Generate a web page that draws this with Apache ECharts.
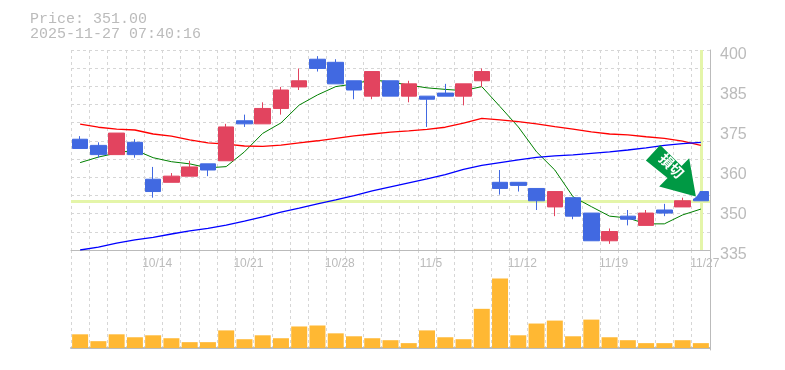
<!DOCTYPE html>
<html>
<head>
<meta charset="utf-8">
<style>html,body{margin:0;padding:0;background:#fff}#c{width:785px;height:370px}</style>
<script src="https://cdn.jsdelivr.net/npm/echarts@6/dist/echarts.min.js"></script>
</head>
<body>
<div id="c"></div>
<script>
const headerLines = ['Price: 351.00', '2025-11-27 07:40:16'];
const lastPrice = 351;
const dates = ['10/7','10/8','10/9','10/10','10/14','10/15','10/16','10/17','10/20','10/21','10/22','10/23','10/24','10/27','10/28','10/29','10/30','10/31','11/4','11/5','11/6','11/7','11/10','11/11','11/12','11/13','11/14','11/17','11/18','11/19','11/20','11/21','11/25','11/26','11/27'];
// open, close, low, high
const ohlc = [[371,368,368,372],[369,366,365,370],[366,373,366,373],[370,366,365,371],[358,354,352,362],[357,359,357,360],[359,362,359,364],[363,361,359,363],[364,375,364,376],[377,376,375,379],[376,381,376,383],[381,387,379,388],[388,390,387,394],[397,394,393,398],[396,389,389,397],[390,387,384,390],[385,393,384,393],[390,385,385,390],[385,389,383,390],[385,384,375,385],[386,385,385,389],[385,389,382,389],[390,393,388,394],[357,355,353,361],[357,356,354,357],[355,351,348,355],[349,354,346,354],[352,346,345,352],[347,338,338,347],[338,341,337,342],[346,345,343,348],[343,347,343,348],[348,347,346,350],[349,351,349,352],[354,351,351,354]];
const maShort = [363.4,365.2,366.5,367.5,365,363.7,363,361.7,362.1,366.9,372.9,376.3,382.1,385.4,388.1,389,390.3,389.6,388.6,387.7,387.2,386.8,388.1,381.6,375,366.9,361,352.3,349.1,346,345.4,343.5,343.5,346.4,348.3];
const maMid = [375.9,374.9,374.3,374,372.7,372,370.8,369.8,369.4,368.8,368.7,369.1,369.8,370.5,371.3,372.1,372.7,373.3,373.7,374.2,374.9,376.2,377.8,377.3,376.7,376,375.1,374.3,373.4,372.7,372.4,371.8,371.3,370.4,369];
const maLong = [335,335.9,337.2,338.3,339.1,340.2,341.2,342,343.1,344.4,345.8,347.3,348.6,350,351.3,352.7,354.2,355.5,356.8,358.1,359.5,361.2,362.5,363.4,364.3,365.1,365.6,365.9,366.4,366.9,367.5,368.2,369,369.6,370];
const volume = [14,7,14,11,13,10,6,6,18,9,13,10,22,23,15,12,10,8,5,18,11,9,40,71,13,25,28,12,29,11,8,5,5,8,5];
const priceMin = 335, priceMax = 400;
const priceLabelAt = [335,348,361,374,387,400];
const priceLabels = ['335','350','360','375','385','400'];
const gridSteps = 11;
const arrowText = '損切';

const priceGrid = [];
for (let i = 0; i <= gridSteps; i++) priceGrid.push(priceMin + (priceMax - priceMin) * i / gridSteps);

const GREY = '#bbbbbb', GRID = '#d6d6d6', MARK = '#e4f5a9';
const chart = echarts.init(document.getElementById('c'), null, {renderer: 'canvas'});
const vSplit = {show: true, interval: 0, lineStyle: {color: GRID, type: [3, 3], width: 1}};
chart.setOption({
  animation: false,
  backgroundColor: '#fff',
  title: {
    text: headerLines.join('\n'), left: 30, top: 12, padding: 0,
    textStyle: {fontFamily: 'Liberation Mono', fontSize: 15, fontWeight: 'normal', color: GREY, lineHeight: 15}
  },
  grid: [
    {left: 71, width: 639, top: 50, height: 200},
    {left: 71, width: 639, top: 250, height: 100}
  ],
  xAxis: [
    {type: 'category', gridIndex: 0, data: dates, boundaryGap: true,
     axisLine: {lineStyle: {color: GREY, width: 1}}, axisTick: {show: false},
     splitLine: vSplit,
     axisLabel: {interval: (i) => i % 5 === 4, color: GREY, fontFamily: 'Liberation Sans', fontSize: 12, margin: 8, padding: [0, 0, 0, 8], hideOverlap: false}},
    {type: 'category', gridIndex: 1, data: dates, boundaryGap: true,
     axisLine: {lineStyle: {color: GREY, width: 2}}, axisTick: {show: false}, axisLabel: {show: false},
     splitLine: vSplit}
  ],
  yAxis: [
    {type: 'value', gridIndex: 0, position: 'right', min: priceMin, max: priceMax, scale: true,
     axisLine: {show: true, onZero: false, lineStyle: {color: GREY, width: 1}},
     axisTick: {show: false, customValues: priceGrid},
     splitLine: {show: true, lineStyle: {color: GRID, type: [3, 3], width: 1}},
     axisLabel: {customValues: priceLabelAt, margin: 10, color: GREY, fontFamily: 'Liberation Sans', fontSize: 16,
       verticalAlign: 'top', lineHeight: 9,
       formatter: (v) => priceLabels[priceLabelAt.indexOf(v)]}},
    {type: 'value', gridIndex: 1, position: 'right', min: -2, max: 100,
     axisLine: {show: true, onZero: false, lineStyle: {color: GREY, width: 1}},
     axisTick: {show: false}, axisLabel: {show: false}, splitLine: {show: false}}
  ],
  series: [
    {type: 'line', name: 'short', data: maShort, showSymbol: false, z: 2, lineStyle: {color: '#008000', width: 1},
     markLine: {silent: true, symbol: 'none', z: 1, label: {show: false}, animation: false,
       lineStyle: {color: MARK, width: 3, type: 'solid'},
       data: [{yAxis: lastPrice}, {xAxis: dates.length - 1}]}},
    {type: 'line', name: 'mid', data: maMid, showSymbol: false, z: 2, lineStyle: {color: '#ff0000', width: 1.3}},
    {type: 'line', name: 'long', data: maLong, showSymbol: false, z: 2, lineStyle: {color: '#0000ff', width: 1.3}},
    {type: 'candlestick', name: 'price', data: ohlc, barWidth: 16, z: 3,
     itemStyle: {color: '#e2445f', color0: '#4169e1', borderColor: '#e2445f', borderColor0: '#4169e1', borderWidth: 1},
     markPoint: {silent: true, z: 6, animation: false,
       data: [{
         coord: [dates.length - 1, 352.3],
         symbol: 'path://M0 0 L8 0 Q5 7 0 9 Z',
         symbolSize: [8, 9], symbolOffset: [-4.5, -2],
         itemStyle: {color: '#ffffff'},
         label: {show: false}
       }, {
         coord: [dates.length - 1, 352.3],
         symbol: 'path://M14.3 0 L0 15.7 L21.7 33 L13.3 41.7 L50 51.7 L43.3 13.3 L35.7 21 Z',
         symbolSize: [50, 51.7], symbolOffset: [-30, -26],
         itemStyle: {color: '#009944'},
         label: {show: true, position: 'inside', formatter: arrowText, rotate: -45, offset: [-3, -4], color: '#fff',
           fontFamily: 'Noto Sans CJK JP', fontWeight: 'bold', fontSize: 14}
       }]}},
    {type: 'bar', name: 'volume', xAxisIndex: 1, yAxisIndex: 1, data: volume, barWidth: 16, itemStyle: {color: '#ffb833'}}
  ]
});
</script>
</body>
</html>
